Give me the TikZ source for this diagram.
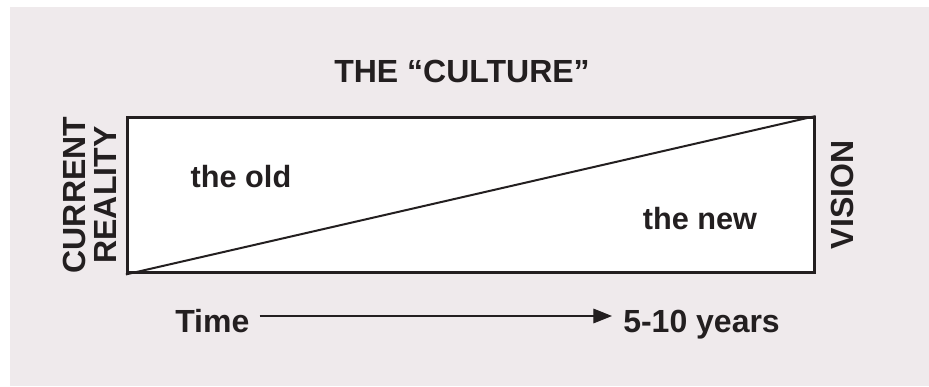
\documentclass[tikz,border=0pt]{standalone}
\usepackage{fontspec}
\setmainfont{Liberation Sans}
\usetikzlibrary{arrows.meta, positioning}

\definecolor{paper}{HTML}{EFEAEC}
\definecolor{ink}{HTML}{231F20}

\begin{document}
\begin{tikzpicture}[
  x=0.75pt, y=-0.75pt,
  frame/.style={draw=ink, line width=2.25pt, fill=white,
                minimum width=515pt, minimum height=116.5pt,
                inner sep=0pt},
  caption/.style={font=\bfseries\fontsize{24}{24}\selectfont,
                  text=ink, inner sep=0pt},
  word/.style={font=\bfseries\fontsize{23}{23}\selectfont,
               text=ink, inner sep=0pt},
  side/.style={font=\bfseries\fontsize{24}{23.6}\selectfont,
               text=ink, align=center, rotate=90, inner sep=0pt},
  arrow/.style={-{Triangle[length=14pt, width=11pt]}, draw=ink,
                line width=0.9pt},
]
  \useasboundingbox (0,0) rectangle (929,386);
  \fill[paper] (10,7) rectangle (929,386);

  \node[caption] (title) at (462,71) {THE \char"201C CULTURE\char"201D};
  \node[frame] (culture) at (470.75,195.25) {};
  \draw[ink, line width=1.5pt] (culture.south west) -- (culture.north east);

  \node[word] (old) at (241,177) {the old};
  \node[word] (new) at (700,219) {the new};

  \node[side] (reality) at (90,195) {CURRENT\\REALITY};
  \node[side] (vision) at (842,195) {VISION};

  \node[caption, anchor=base west] (time) at (175,332) {Time};
  \node[caption, anchor=base west] (years) at (623,332) {5-10 years};
  \draw[arrow] ([shift={(10,-16)}]time.base east) -- ([shift={(-11,-16)}]years.base west);
\end{tikzpicture}
\end{document}
